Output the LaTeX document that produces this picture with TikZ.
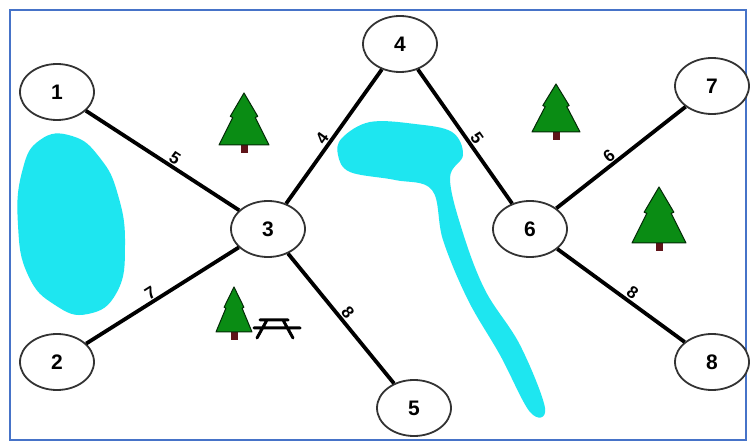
\documentclass[tikz,border=0pt]{standalone}
\usepackage{fontspec}
\setmainfont{Liberation Sans}
\usetikzlibrary{shapes.geometric}
\definecolor{water}{RGB}{30,230,240}
\definecolor{pine}{RGB}{10,140,20}
\definecolor{trunk}{RGB}{95,20,25}
\definecolor{frame}{RGB}{70,115,200}
\tikzset{
  site/.style={ellipse, draw=black!80, line width=1.8pt, fill=white,
    minimum width=74pt, minimum height=56pt, inner sep=0pt,
    font=\fontsize{21}{21}\selectfont\bfseries},
  trail/.style={line width=3.8pt, black},
  dist/.style={midway, above, sloped, inner sep=1pt,
    font=\fontsize{17}{17}\selectfont\bfseries},
  lake/.style={fill=water, draw=none},
}
% a pine tree: apex at (#1,#2), half base width #3, height #4
\newcommand{\pinetree}[4]{%
  \fill[trunk] (#1-3.5,#2+#4-2) rectangle (#1+3.5,#2+#4+8);
  \filldraw[fill=pine, draw=black!70!pine, line width=1pt, line join=round]
    (#1,#2) -- (#1+#3*0.55,#2+#4*0.45) -- (#1+#3*0.45,#2+#4*0.47)
    -- (#1+#3,#2+#4) -- (#1-#3,#2+#4) -- (#1-#3*0.45,#2+#4*0.47)
    -- (#1-#3*0.55,#2+#4*0.45) -- cycle;}
\begin{document}
\begin{tikzpicture}[x=1pt,y=-1pt]
\useasboundingbox (0,0) rectangle (753,443);
\fill[white] (0,0) rectangle (753,443);
\draw[frame, line width=2pt] (10,10) rectangle (746,440);

% left lake
\fill[lake] plot[smooth cycle, tension=0.8] coordinates {
  (40,140) (72,136) (100,158) (118,195) (125,245) (117,292)
  (88,314) (55,305) (28,275) (18,225) (22,172)};
% pond with its stream
\fill[lake] plot[smooth cycle, tension=0.6] coordinates {
  (342,138) (370,122) (415,124) (452,132) (463,155) (450,178)
  (462,230) (485,290) (520,345) (545,408) (530,412)
  (500,355) (468,300) (443,240) (432,190) (395,180) (350,172) (338,155)};

% trees and picnic table
\pinetree{244}{93}{25}{52}
\pinetree{556}{84}{24}{48}
\pinetree{659}{187}{27}{56}
\pinetree{234}{287}{18}{45}
\draw[black, line width=3pt, line cap=round]
  (260,320) -- (288,320)
  (254,328) -- (300,328)
  (267,320) -- (257,338)
  (283,320) -- (293,338);

% sites
\node[site] (n1) at (57,92) {1};
\node[site] (n2) at (57,362) {2};
\node[site] (n3) at (268,229) {3};
\node[site] (n4) at (400,44) {4};
\node[site] (n5) at (414,408) {5};
\node[site] (n6) at (530,229) {6};
\node[site] (n7) at (712,86) {7};
\node[site] (n8) at (712,362) {8};

% trails with their lengths
\draw[trail] (n1) -- node[dist, pos=0.55] {5} (n3);
\draw[trail] (n2) -- node[dist, pos=0.45] {7} (n3);
\draw[trail] (n3) -- node[dist, pos=0.45] {4} (n4);
\draw[trail] (n3) -- node[dist, pos=0.5] {8} (n5);
\draw[trail] (n4) -- node[dist, pos=0.55] {5} (n6);
\draw[trail] (n6) -- node[dist, pos=0.45] {6} (n7);
\draw[trail] (n6) -- node[dist, pos=0.55] {8} (n8);
\end{tikzpicture}
\end{document}
